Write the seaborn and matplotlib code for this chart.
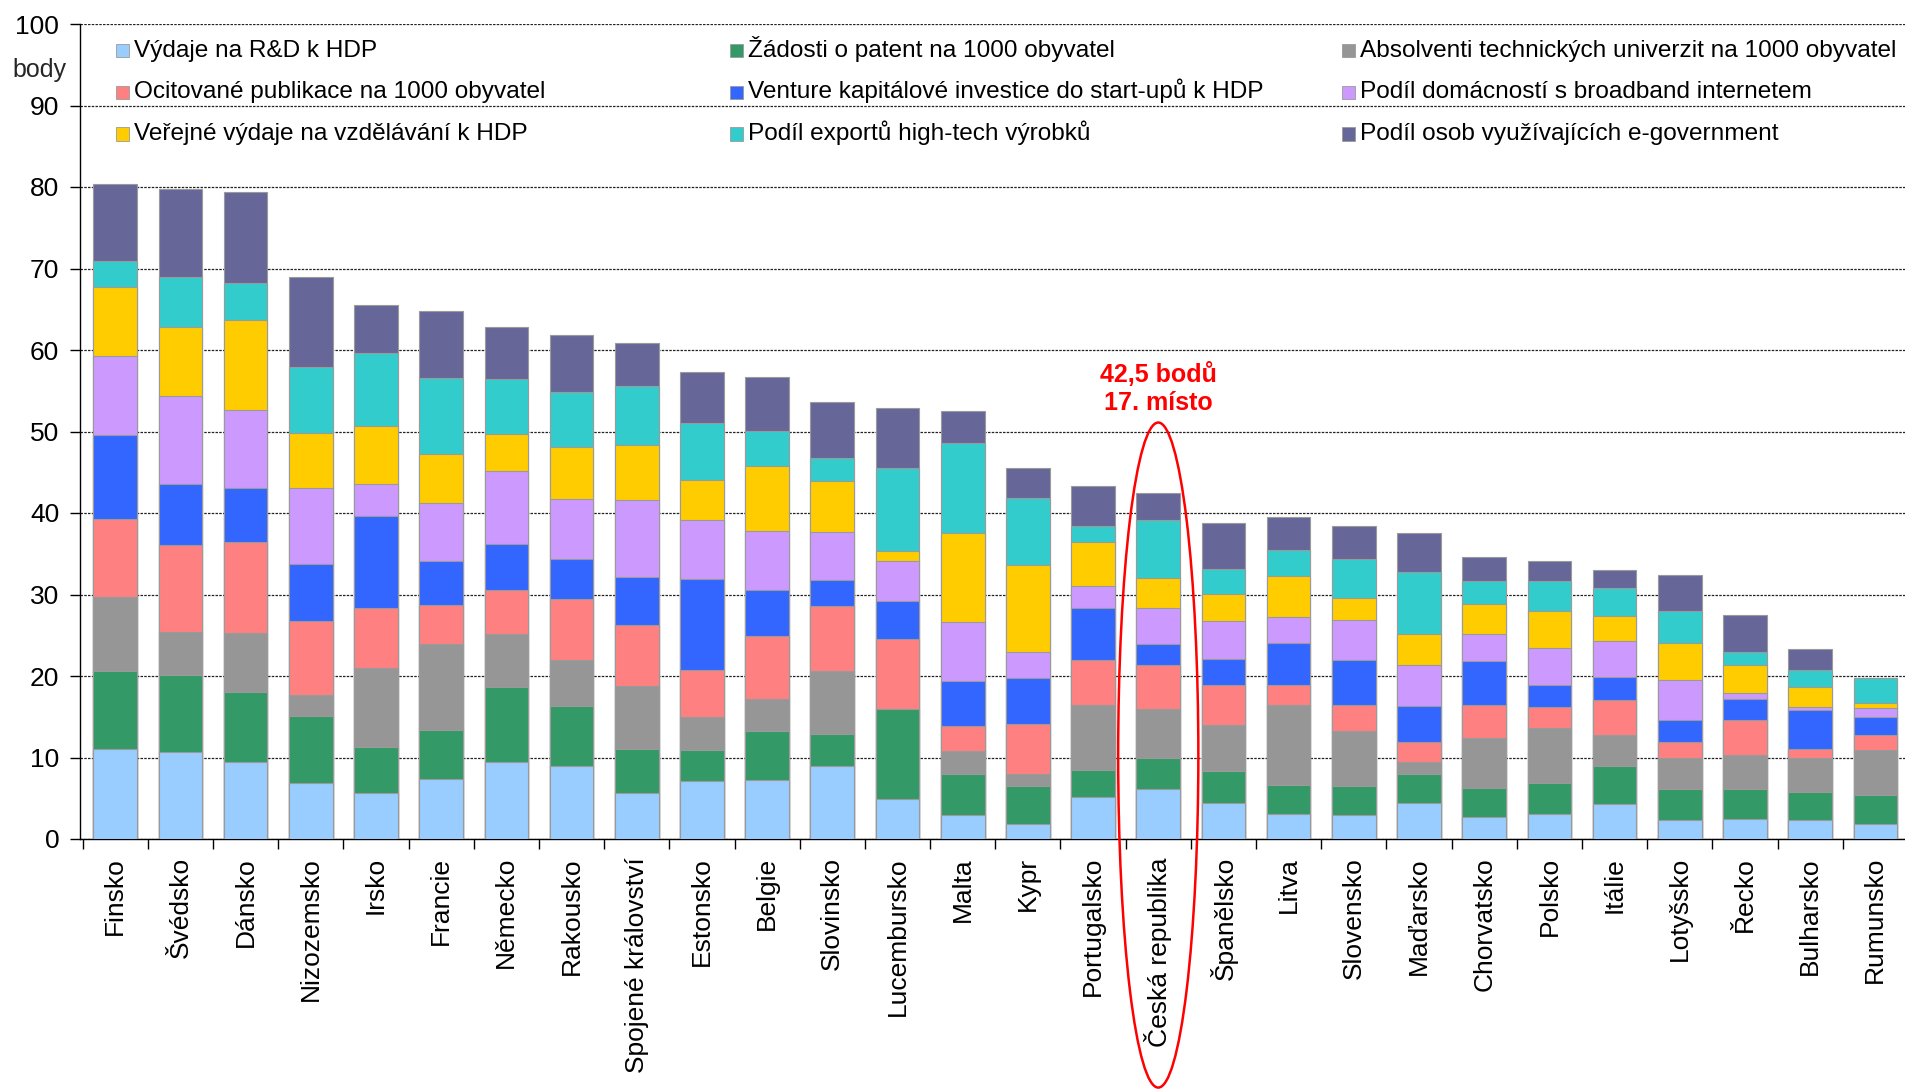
import numpy as np
import matplotlib
matplotlib.use("Agg")
import matplotlib.pyplot as plt
from matplotlib.patches import Ellipse, Rectangle
from matplotlib.ticker import FixedLocator
import seaborn as sns

# --- data -----------------------------------------------------------------
countries = ["Finsko", "Švédsko", "Dánsko", "Nizozemsko", "Irsko", "Francie",
             "Německo", "Rakousko", "Spojené království", "Estonsko", "Belgie",
             "Slovinsko", "Lucembursko", "Malta", "Kypr", "Portugalsko",
             "Česká republika", "Španělsko", "Litva", "Slovensko", "Maďarsko",
             "Chorvatsko", "Polsko", "Itálie", "Lotyšsko", "Řecko", "Bulharsko",
             "Rumunsko"]

rd = [11.1, 10.7, 9.5, 6.9, 5.6, 7.4, 9.5, 9.0, 5.6, 7.1, 7.2, 8.9, 4.9, 3.0,
      1.9, 5.1, 6.1, 4.4, 3.1, 3.0, 4.4, 2.7, 3.1, 4.3, 2.3, 2.5, 2.3, 1.9]
patenty = [9.5, 9.4, 8.5, 8.2, 5.7, 6.0, 9.1, 7.3, 5.4, 3.8, 6.1, 4.0, 11.1, 5.0,
           4.6, 3.4, 3.8, 3.9, 3.5, 3.5, 3.6, 3.5, 3.8, 4.6, 3.8, 3.6, 3.5, 3.5]
absolventi = [9.1, 5.3, 7.3, 2.6, 9.7, 10.5, 6.6, 5.7, 7.8, 4.1, 3.9, 7.7, 0.0, 2.8,
              1.5, 7.9, 6.1, 5.7, 9.8, 6.7, 1.4, 6.2, 6.7, 3.9, 3.9, 4.2, 4.1, 5.5]
publikace = [9.6, 10.7, 11.2, 9.1, 7.4, 4.8, 5.3, 7.4, 7.4, 5.7, 7.7, 8.0, 8.5, 3.1,
             6.1, 5.6, 5.3, 4.9, 2.5, 3.3, 2.5, 4.0, 2.6, 4.3, 1.9, 4.3, 1.1, 1.8]
venture = [10.3, 7.5, 6.6, 6.9, 11.2, 5.4, 5.7, 4.9, 6.0, 11.2, 5.7, 3.2, 4.7, 5.5,
           5.7, 6.4, 2.6, 3.2, 5.1, 5.5, 4.4, 5.5, 2.7, 2.8, 2.7, 2.6, 4.8, 2.3]
broadband = [9.7, 10.7, 9.5, 9.4, 3.9, 7.1, 9.0, 7.4, 9.4, 7.2, 7.2, 5.9, 4.9, 7.2,
             3.1, 2.7, 4.4, 4.6, 3.3, 4.9, 5.0, 3.3, 4.5, 4.4, 4.9, 0.7, 0.4, 1.1]
vzdelavani = [8.4, 8.5, 11.1, 6.7, 7.2, 6.1, 4.5, 6.4, 6.8, 5.0, 8.0, 6.2, 1.2, 10.9,
              10.7, 5.3, 3.7, 3.4, 5.0, 2.7, 3.9, 3.6, 4.6, 3.1, 4.5, 3.5, 2.4, 0.6]
export = [3.2, 6.1, 4.5, 8.1, 8.9, 9.3, 6.7, 6.7, 7.2, 6.9, 4.3, 2.8, 10.2, 11.1,
          8.3, 2.0, 7.1, 3.0, 3.1, 4.7, 7.5, 2.9, 3.6, 3.4, 4.0, 1.5, 2.1, 3.0]
egov = [9.5, 10.8, 11.2, 11.0, 5.9, 8.2, 6.4, 7.1, 5.2, 6.3, 6.6, 6.9, 7.4, 3.9,
        3.6, 4.9, 3.4, 5.7, 4.1, 4.1, 4.8, 2.9, 2.5, 2.2, 4.4, 4.6, 2.6, 0.0]

series_names = ["Výdaje na R&D k HDP",
                "Žádosti o patent na 1000 obyvatel",
                "Absolventi technických univerzit na 1000 obyvatel",
                "Ocitované publikace na 1000 obyvatel",
                "Venture kapitálové investice do start-upů k HDP",
                "Podíl domácností s broadband internetem",
                "Veřejné výdaje na vzdělávání k HDP",
                "Podíl exportů high-tech výrobků",
                "Podíl osob využívajících e-government"]
series_values = [rd, patenty, absolventi, publikace, venture, broadband,
                 vzdelavani, export, egov]
colors = ["#99CCFF", "#339966", "#969696", "#FF8080", "#3366FF",
          "#CC99FF", "#FFCC00", "#33CCCC", "#666699"]

highlight = "Česká republika"
highlight_text = "42,5 bodů\n17. místo"

# --- style ----------------------------------------------------------------
sns.set_theme(style="white")
plt.rcParams["font.family"] = ["Liberation Sans", "DejaVu Sans"]

W, H = 1906, 1089
fig = plt.figure(figsize=(W / 100, H / 100), dpi=100)
ax = fig.add_axes([80 / W, 1 - 839 / H, 1 - 80 / W, (839 - 24) / H])

edge = "#9a9a9a"
cum = np.cumsum(np.array(series_values), axis=0)

# stacked bars: draw cumulative heights from the top layer down
for k in range(len(series_values) - 1, -1, -1):
    sns.barplot(x=countries, y=cum[k], color=colors[k], saturation=1,
                width=0.67, edgecolor=edge, linewidth=0.8, errorbar=None,
                ax=ax, zorder=3)

ax.set_ylim(0, 100)
ax.set_xlim(-0.54, len(countries) - 0.53)
ax.set_yticks(range(0, 101, 10))
ax.set_axisbelow(True)
ax.yaxis.grid(True, linestyle=(0, (2.0, 1.0)), color="#222222", linewidth=0.9)
ax.xaxis.grid(False)

for side in ("top", "right"):
    ax.spines[side].set_visible(False)
for side in ("left", "bottom"):
    ax.spines[side].set_color("black")
    ax.spines[side].set_linewidth(1.0)

ax.set_xlabel("")
ax.set_ylabel("")
ax.tick_params(axis="y", which="major", left=True, direction="out", length=7,
               width=1, color="black", labelsize=19, pad=8, labelcolor="black")
ax.set_xticks(range(len(countries)))
ax.set_xticklabels(countries, rotation=90, ha="center", va="top")
ax.tick_params(axis="x", which="major", bottom=True, length=0, labelsize=19,
               pad=13, labelcolor="black")
ax.xaxis.set_minor_locator(FixedLocator(np.arange(-0.5, len(countries), 1.0)))
ax.tick_params(axis="x", which="minor", bottom=True, direction="out", length=7,
               width=1, color="black")

fig.text(39 / W, 1 - 70 / H, "body", fontsize=18, ha="center", va="center")

# legend: 3 x 3 grid of key squares and labels, equal column widths
col_x = [116, 730, 1342]
row_base = [56.7, 98.3, 140.0]
key = 13
for i, (color, name) in enumerate(zip(colors, series_names)):
    r, c = divmod(i, 3)
    x0, yb = col_x[c], row_base[r]
    fig.add_artist(Rectangle((x0 / W, 1 - (yb + 0.5) / H), key / W, key / H,
                             transform=fig.transFigure, facecolor=color,
                             edgecolor=edge, linewidth=0.6))
    fig.text((x0 + 18) / W, 1 - yb / H, name, fontsize=17.6,
             ha="left", va="baseline", color="black")

# highlighted country
hi = countries.index(highlight)
ax.add_patch(Ellipse((hi, 10.3), width=1.23, height=81.6, fill=False,
                     edgecolor="#FF0000", linewidth=1.8, clip_on=False,
                     zorder=5))
ax.text(hi, 55.3, highlight_text, color="#FF0000", fontsize=18,
        fontweight="bold", ha="center", va="center", zorder=6)

fig.savefig("out.png", dpi=100)
